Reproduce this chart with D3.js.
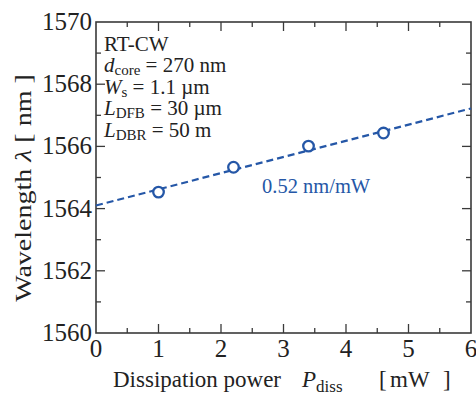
<!DOCTYPE html>
<html>
<head>
<meta charset="utf-8">
<script src="https://cdn.jsdelivr.net/npm/d3@7"></script>
<style>
  body { margin: 0; background: #fff; }
  text { font-family: "Liberation Serif", "DejaVu Serif", serif; }
</style>
</head>
<body>
<div id="chart"></div>
<script>
/* Data */
const power = [1.0, 2.2, 3.4, 4.6]
const wavelength = [1564.53, 1565.33, 1566.01, 1566.43]
const fitIntercept = 1564.1
const fitSlope = 0.52
const xTicks = [0, 1, 2, 3, 4, 5, 6]
const yTicks = [1560, 1562, 1564, 1566, 1568, 1570]

const width = 476, height = 394
const margin = { top: 22, right: 5, bottom: 61, left: 96 }
const bw = width - margin.left - margin.right
const bh = height - margin.top - margin.bottom
const blue = "#2557a7"
const axisColor = "#3a3a3a"
const ink = "#222"

const svg = d3.select("#chart").append("svg")
    .attr("width", width)
    .attr("height", height)

const bounds = svg.append("g")
    .attr("transform", `translate(${margin.left},${margin.top})`)

/* Scales */
const xScale = d3.scaleLinear().domain([0, 6]).range([0, bw])
const yScale = d3.scaleLinear().domain([1560, 1570]).range([bh, 0])

/* Ticks (inward, on all four sides) */
const xMinor = d3.range(0.5, 6, 1)
const yMinor = d3.range(1561, 1570, 2)
const ticks = bounds.append("g").attr("stroke", axisColor).attr("stroke-width", 1.3)
const addX = (vals, len) => vals.forEach(v => {
  ticks.append("line").attr("x1", xScale(v)).attr("x2", xScale(v)).attr("y1", bh).attr("y2", bh - len)
  ticks.append("line").attr("x1", xScale(v)).attr("x2", xScale(v)).attr("y1", 0).attr("y2", len)
})
const addY = (vals, len) => vals.forEach(v => {
  ticks.append("line").attr("y1", yScale(v)).attr("y2", yScale(v)).attr("x1", 0).attr("x2", len)
  ticks.append("line").attr("y1", yScale(v)).attr("y2", yScale(v)).attr("x1", bw).attr("x2", bw - len)
})
addX(xTicks.slice(1, -1), 9)
addX(xMinor, 5)
addY(yTicks.slice(1, -1), 9)
addY(yMinor, 5)

bounds.append("rect")
    .attr("width", bw).attr("height", bh)
    .attr("fill", "none")
    .attr("stroke", axisColor)
    .attr("stroke-width", 1.6)

/* Tick labels */
bounds.append("g").selectAll("text")
  .data(xTicks)
  .enter().append("text")
    .attr("x", d => xScale(d))
    .attr("y", bh + 24)
    .attr("text-anchor", "middle")
    .attr("font-size", "25px")
    .attr("fill", ink)
    .text(d => d)

bounds.append("g").selectAll("text")
  .data(yTicks)
  .enter().append("text")
    .attr("x", -4)
    .attr("y", d => yScale(d) + 8)
    .attr("text-anchor", "end")
    .attr("font-size", "25px")
    .attr("fill", ink)
    .text(d => d)

/* Fit line */
bounds.append("line")
    .attr("x1", xScale(0)).attr("y1", yScale(fitIntercept))
    .attr("x2", xScale(6)).attr("y2", yScale(fitIntercept + fitSlope * 6))
    .attr("stroke", blue)
    .attr("stroke-width", 2.2)
    .attr("stroke-dasharray", "7 4")

/* Points */
bounds.append("g").selectAll("circle")
  .data(power)
  .enter().append("circle")
    .attr("cx", d => xScale(d))
    .attr("cy", (d, i) => yScale(wavelength[i]))
    .attr("r", 5.3)
    .attr("fill", "#fff")
    .attr("stroke", blue)
    .attr("stroke-width", 2.3)

bounds.append("text")
    .attr("x", 166)
    .attr("y", 171)
    .attr("font-size", "20.5px")
    .attr("fill", blue)
    .text("0.52 nm/mW")

/* Annotation block */
const ann = bounds.append("g").attr("font-size", "21px").attr("fill", ink)
const lines = [
  ["RT-CW", null, null],
  ["d", "core", " = 270 nm"],
  ["W", "s", " = 1.1 \u00b5m"],
  ["L", "DFB", " = 30 \u00b5m"],
  ["L", "DBR", " = 50 m"]
]
lines.forEach(([main, sub, rest], i) => {
  const t = ann.append("text").attr("x", 8).attr("y", 28.5 + i * 21.5)
  if (sub === null) { t.text(main); return }
  t.append("tspan").attr("font-style", "italic").text(main)
  t.append("tspan").attr("font-size", "15px").attr("dy", 3).text(sub)
  t.append("tspan").attr("dy", -3).text(rest)
})

/* Axis titles */
const xt = svg.append("text")
    .attr("y", 387)
    .attr("font-size", "23px")
    .attr("fill", ink)
xt.append("tspan").attr("x", 113).text("Dissipation power")
xt.append("tspan").attr("x", 302).attr("font-style", "italic").text("P")
xt.append("tspan").attr("font-size", "17px").attr("dy", 5).text("diss")
xt.append("tspan").attr("x", 379).attr("dy", -5).text("[")
xt.append("tspan").attr("x", 390).text("mW")
xt.append("tspan").attr("x", 443).text("]")

const yt = svg.append("text")
    .attr("transform", "translate(31,188) rotate(-90) scale(1,0.82)")
    .attr("text-anchor", "middle")
    .attr("font-size", "28px")
    .attr("fill", ink)
yt.append("tspan").text("Wavelength ")
yt.append("tspan").attr("font-style", "italic").text("\u03bb")
yt.append("tspan").text(" [ nm ]")
</script>
</body>
</html>
